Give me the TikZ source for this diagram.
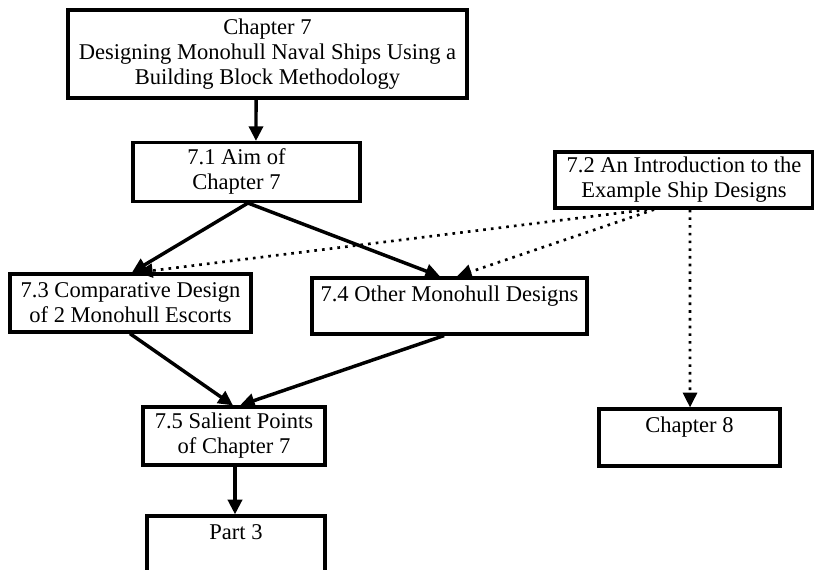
\documentclass[tikz,border=0pt]{standalone}
\usepackage{fontspec}
\setmainfont{Liberation Serif}
\usetikzlibrary{arrows.meta}

\tikzset{
  box/.style={draw, line width=2.4pt, rectangle, inner xsep=0pt,
    font=\fontsize{16.9}{18.75}\selectfont},
  multi/.style={box, align=center},
  % single line of text sitting near the top of a taller box
  topbox/.style 2 args={box, inner ysep=0pt, text height=#1, text depth=#2},
  flow/.style={line width=2.6pt, -{Triangle[length=11pt,width=10.5pt]}},
  link/.style={line width=2pt, dash pattern=on 2pt off 3.8pt,
    -{Triangle[length=11pt,width=10.5pt]}},
}

\begin{document}
\begin{tikzpicture}[x=0.75pt, y=-0.75pt]
  \useasboundingbox (0,0) rectangle (814,570);
  \clip (0,0) rectangle (814,570);

  % boxes
  \node[multi, minimum width=299.25pt, minimum height=66pt] (c7) at (267.5,54)
    {Chapter 7\\Designing Monohull Naval Ships Using a\\Building Block Methodology};
  \node[box, minimum width=170.25pt, minimum height=42pt] (s71) at (246.5,172)
    {\kern-15pt\begin{tabular}{@{}c@{}}7.1 Aim of\\Chapter 7\end{tabular}};
  \node[multi, minimum width=193.5pt, minimum height=42pt] (s72) at (684,180)
    {7.2 An Introduction to the\\Example Ship Designs};
  \node[multi, minimum width=180.75pt, minimum height=43.5pt] (s73) at (130.5,303)
    {7.3 Comparative Design\\of 2 Monohull Escorts};
  \node[topbox={17.25pt}{24.75pt}, minimum width=206.25pt] (s74) at (449.5,306)
    {7.4 Other Monohull Designs};
  \node[multi, minimum width=136.5pt, minimum height=43.5pt] (s75) at (234,436)
    {7.5 Salient Points\\of Chapter 7};
  \node[topbox={17.25pt}{38.25pt}, minimum width=133.5pt] (p3) at (236,553)
    {Part 3};
  \node[topbox={17.25pt}{25.5pt}, minimum width=135.75pt] (ch8) at (689.5,437.5)
    {Chapter 8};

  % solid reading order
  \draw[flow] ([xshift=-8.6pt]c7.south) -- ([xshift=7.1pt]s71.north);
  \draw[flow] ([xshift=1.1pt]s71.south) -- ([xshift=1.1pt]s73.north);
  \draw[flow] ([xshift=1.1pt]s71.south) -- ([xshift=-7.1pt]s74.north);
  \draw[flow] ([xshift=-0.4pt]s73.south) -- ([xshift=-0.75pt]s75.north);
  \draw[flow] ([xshift=-4.1pt]s74.south) -- ([xshift=4.5pt]s75.north);
  \draw[flow] ([xshift=0.75pt]s75.south) -- ([xshift=-0.75pt]p3.north);

  % dotted references from 7.2
  \draw[link] ([xshift=-27.75pt]s72.south) -- ([xshift=5.6pt]s73.north);
  \draw[link] ([xshift=-22.5pt]s72.south) -- ([xshift=5.6pt]s74.north);
  \draw[link] ([xshift=4.5pt]s72.south) -- ([xshift=0.4pt]ch8.north);
\end{tikzpicture}
\end{document}
